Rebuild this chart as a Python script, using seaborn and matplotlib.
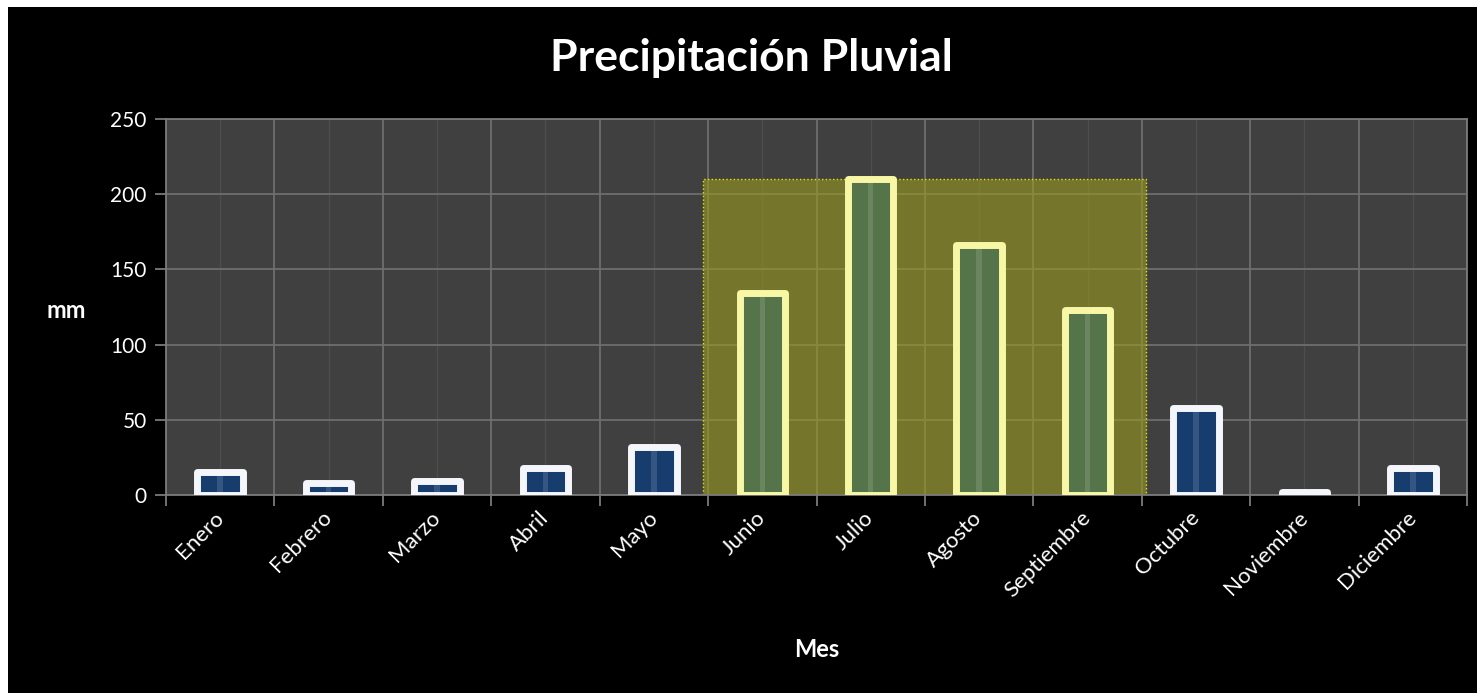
import matplotlib
matplotlib.use("Agg")
import numpy as np
import pandas as pd
import matplotlib.pyplot as plt
import seaborn as sns
from matplotlib.colors import to_rgba
from matplotlib.patches import Rectangle

# datos
meses = ["Enero", "Febrero", "Marzo", "Abril", "Mayo", "Junio", "Julio",
         "Agosto", "Septiembre", "Octubre", "Noviembre", "Diciembre"]
precip_mm = [15, 8, 9, 18, 32, 134, 210, 166, 123, 58, 2, 18]
temporada_lluvias = ["Junio", "Julio", "Agosto", "Septiembre"]
y_ticks = [0, 50, 100, 150, 200, 250]

sns.set_theme(style="dark")
plt.rcParams["font.family"] = ["Lato", "DejaVu Sans"]

df = pd.DataFrame({"Mes": meses, "mm": precip_mm})
df["lluvia"] = df["Mes"].isin(temporada_lluvias)

W, H = 1477, 693
fig = plt.figure(figsize=(W / 100, H / 100), dpi=100, facecolor="white")
fig.patches.append(Rectangle((8 / W, 0), 1, 1 - 7 / H, transform=fig.transFigure,
                             facecolor="black", edgecolor="none", zorder=-10))
ax = fig.add_axes([166 / W, 1 - 495 / H, (1467 - 166) / W, (495 - 119) / H])
ax.set_facecolor("#404040")

fills = ["#56744a" if r else "#173d6e" for r in df["lluvia"]]
edges = ["#f7f7a6" if r else "#f4f6fb" for r in df["lluvia"]]

sns.barplot(data=df, x="Mes", y="mm", hue="Mes", palette=fills, legend=False,
            width=0.42, linewidth=0, saturation=1, ax=ax, zorder=3)
bars = list(ax.patches)

# brillo central en cada barra
ax.bar(range(len(meses)), precip_mm, width=0.05, color="white", alpha=0.13,
       linewidth=0, zorder=4)

# bordes redondeados
for p, ec in zip(bars, edges):
    ax.add_patch(Rectangle((p.get_x(), p.get_y()), p.get_width(), p.get_height(),
                           facecolor="none", edgecolor=ec, linewidth=5,
                           joinstyle="round", zorder=5))

# zona de la temporada de lluvias
idx = [meses.index(m) for m in temporada_lluvias]
x0, x1 = min(idx) - 0.55, max(idx) + 0.54
top = max(precip_mm[i] for i in idx)
ax.add_patch(Rectangle((x0, 0), x1 - x0, top, facecolor=to_rgba("#9a9a20", 0.6),
                       edgecolor="#e6e600", linestyle=":", linewidth=1, zorder=2))

ax.set_xlim(-0.5, len(meses) - 0.5)
ax.set_ylim(0, 250)
ax.set_yticks(y_ticks)
ax.set_xticks(np.arange(-0.5, len(meses), 1))
ax.set_xticklabels([])
ax.set_xticks(range(len(meses)), minor=True)
ax.set_xticklabels(meses, minor=True, rotation=45, ha="right", va="center",
                   rotation_mode="anchor")

ax.grid(True, which="major", color="#6e6e6e", linewidth=1.3)
ax.grid(True, which="minor", axis="x", color="#4d4d4d", linewidth=1)
ax.set_axisbelow(True)

ax.tick_params(axis="x", which="major", bottom=True, length=8, width=1.3, color="#7a7a7a")
ax.tick_params(axis="x", which="minor", bottom=True, length=0, labelsize=16,
               labelcolor="white", pad=14)
ax.tick_params(axis="y", left=True, length=8, width=1.3, color="#7a7a7a",
               labelsize=15, labelcolor="white", pad=6)
for s in ax.spines.values():
    s.set_color("#7a7a7a")
    s.set_linewidth(1.3)

ax.set_ylabel("mm", rotation=0, fontsize=17, fontweight="bold", color="white",
              ha="center", va="center")
ax.yaxis.set_label_coords(-0.077, 0.492)
ax.set_xlabel("Mes", fontsize=17, fontweight="bold", color="white", va="center")
ax.xaxis.set_label_coords(0.5, -0.412)

fig.text(0.509, 1 - 58 / H, "Precipitación Pluvial", ha="center", va="center",
         fontsize=32, fontweight="bold", color="white")

fig.savefig("out.png", dpi=100, facecolor=fig.get_facecolor())
